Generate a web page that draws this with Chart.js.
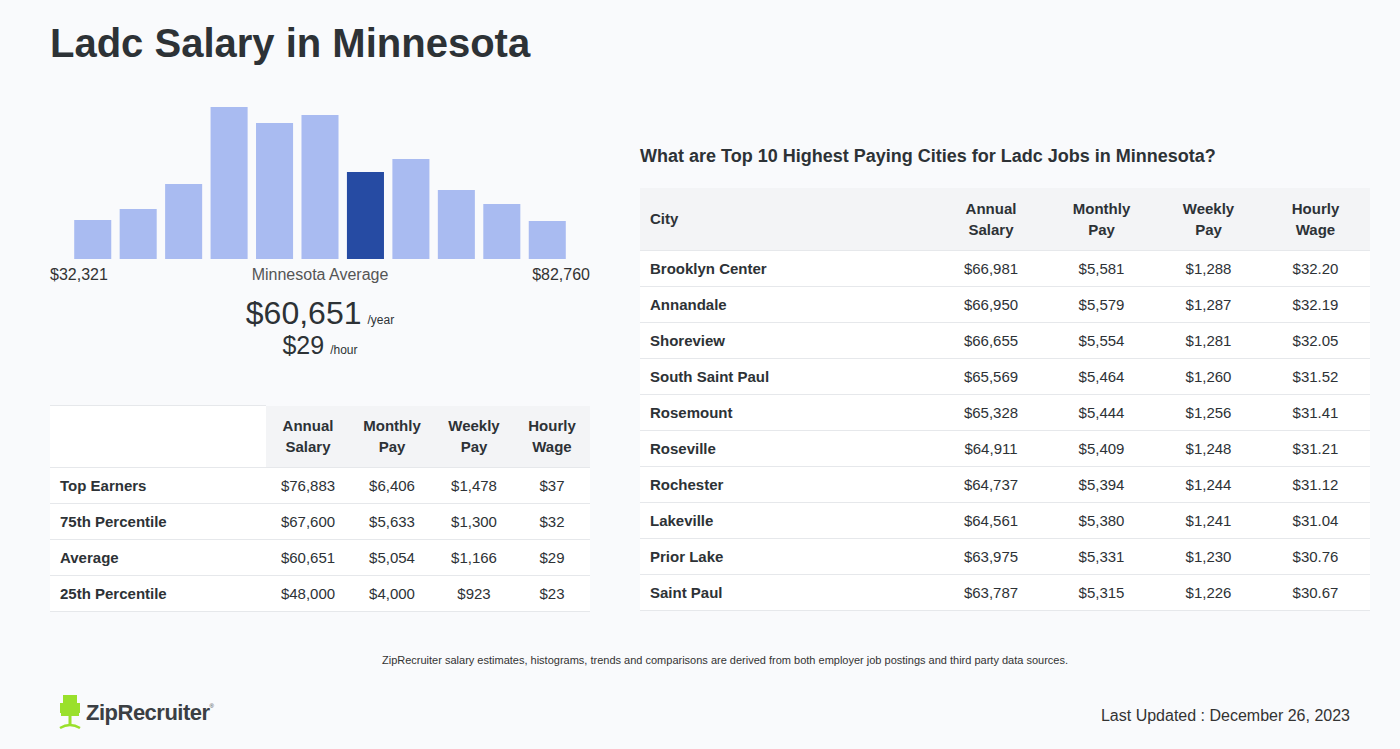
<!DOCTYPE html>
<html>
<head>
<meta charset="utf-8">
<script src="https://cdn.jsdelivr.net/npm/chart.js@4/dist/chart.umd.min.js"></script>
<style>
  body{margin:0;background:#f9fafc;font-family:"Liberation Sans",Arial,sans-serif;color:#2d3236;width:1400px;height:749px;position:relative;overflow:hidden}
  h1{position:absolute;left:50px;top:21px;margin:0;font-size:40px;font-weight:bold;color:#2d3236}
  #histWrap{position:absolute;left:70px;top:107px;width:500px;height:152px}
  .lbl{position:absolute;top:266px;font-size:16px;color:#333}
  .big{position:absolute;left:0;width:640px;text-align:center;color:#2d3236}
  .big small{font-size:12px;margin-left:6px}
  table{border-collapse:collapse;position:absolute;font-size:15px;color:#2d3236;table-layout:fixed}
  td,th{padding:0 10px;border-bottom:1px solid #e6e8eb}
  td{height:35px}
  th{font-weight:bold;line-height:21px;text-align:center}
  td{text-align:center;background:#fff}
  td.n{text-align:left;font-weight:bold}
  #left{left:50px;top:405px;width:540px}
  #left thead tr{height:62px}
  #left th.g{background:#f3f4f6}
  #left th.e{background:#fff;border-top:1px solid #e6e8eb}
  #right{left:640px;top:188px;width:730px}
  #right thead tr{height:62px}
  #right th{background:#f3f4f6}
  #right th.c{text-align:left}
  h2{position:absolute;left:640px;top:146px;margin:0;font-size:18px;font-weight:bold;color:#2d3236}
  .foot{position:absolute;top:654px;left:0;width:1450px;text-align:center;font-size:11px;color:#333}
  .upd{position:absolute;right:50px;top:707px;font-size:16px;color:#333}
  .logo{position:absolute;left:58px;top:695px;display:flex;align-items:center}
  .logo span{font-size:22px;font-weight:bold;color:#3b3f44;margin-left:4px;letter-spacing:-0.5px}
</style>
</head>
<body>
<h1>Ladc Salary in Minnesota</h1>
<div id="histWrap"><canvas id="hist" width="500" height="152"></canvas></div>
<div class="lbl" style="left:50px">$32,321</div>
<div class="lbl" style="left:170px;width:300px;text-align:center;color:#555">Minnesota Average</div>
<div class="lbl" style="right:810px">$82,760</div>
<div class="big" style="top:295px;font-size:32px">$60,651<small>/year</small></div>
<div class="big" style="top:331px;font-size:25px">$29<small>/hour</small></div>

<table id="left">
  <colgroup><col style="width:216px"><col style="width:84px"><col style="width:84px"><col style="width:80px"><col style="width:76px"></colgroup>
  <thead><tr><th class="e"></th><th class="g">Annual<br>Salary</th><th class="g">Monthly<br>Pay</th><th class="g">Weekly<br>Pay</th><th class="g">Hourly<br>Wage</th></tr></thead>
  <tbody id="leftBody"></tbody>
</table>

<h2>What are Top 10 Highest Paying Cities for Ladc Jobs in Minnesota?</h2>
<table id="right">
  <colgroup><col style="width:295px"><col style="width:112px"><col style="width:109px"><col style="width:105px"><col style="width:109px"></colgroup>
  <thead><tr><th class="c">City</th><th>Annual<br>Salary</th><th>Monthly<br>Pay</th><th>Weekly<br>Pay</th><th>Hourly<br>Wage</th></tr></thead>
  <tbody id="rightBody"></tbody>
</table>

<div class="foot">ZipRecruiter salary estimates, histograms, trends and comparisons are derived from both employer job postings and third party data sources.</div>
<div class="logo">
  <svg width="24" height="36" viewBox="0 0 24 36">
    <rect x="5" y="0" width="14" height="20" fill="#9ae02c"/>
    <rect x="2" y="8" width="3" height="10" fill="#9ae02c"/>
    <rect x="19" y="8" width="3" height="10" fill="#9ae02c"/>
    <rect x="3" y="18" width="18" height="3" fill="#9ae02c"/>
    <rect x="10.5" y="21" width="3" height="9" fill="#9ae02c"/>
    <path d="M2 33 Q12 27 22 33" stroke="#9ae02c" stroke-width="2.5" fill="none"/>
  </svg>
  <span>ZipRecruiter</span><sup style="font-size:6px;color:#3b3f44;margin-top:-14px">®</sup>
</div>
<div class="upd">Last Updated : December 26, 2023</div>

<script>
// histogram (relative bar heights)
const binHeights = [39, 50, 75, 152, 136, 144, 87, 100, 69, 55, 38];
const highlightBin = 6;
const lightBlue = '#a9bbf1';
const darkBlue = '#264ba3';

// percentile table
const pctLabels = ['Top Earners', '75th Percentile', 'Average', '25th Percentile'];
const pctAnnual = ['$76,883', '$67,600', '$60,651', '$48,000'];
const pctMonthly = ['$6,406', '$5,633', '$5,054', '$4,000'];
const pctWeekly = ['$1,478', '$1,300', '$1,166', '$923'];
const pctHourly = ['$37', '$32', '$29', '$23'];

// top cities
const cities = ['Brooklyn Center','Annandale','Shoreview','South Saint Paul','Rosemount','Roseville','Rochester','Lakeville','Prior Lake','Saint Paul'];
const cityAnnual = ['$66,981','$66,950','$66,655','$65,569','$65,328','$64,911','$64,737','$64,561','$63,975','$63,787'];
const cityMonthly = ['$5,581','$5,579','$5,554','$5,464','$5,444','$5,409','$5,394','$5,380','$5,331','$5,315'];
const cityWeekly = ['$1,288','$1,287','$1,281','$1,260','$1,256','$1,248','$1,244','$1,241','$1,230','$1,226'];
const cityHourly = ['$32.20','$32.19','$32.05','$31.52','$31.41','$31.21','$31.12','$31.04','$30.76','$30.67'];

function fillRows(tbodyId, names, cols){
  const tbody = document.getElementById(tbodyId);
  names.forEach((name,i)=>{
    const tr = document.createElement('tr');
    tr.innerHTML = `<td class="n">${name}</td>` + cols.map(c=>`<td>${c[i]}</td>`).join('');
    tbody.appendChild(tr);
  });
}
fillRows('leftBody', pctLabels, [pctAnnual, pctMonthly, pctWeekly, pctHourly]);
fillRows('rightBody', cities, [cityAnnual, cityMonthly, cityWeekly, cityHourly]);

new Chart(document.getElementById('hist'), {
  type: 'bar',
  data: {
    labels: binHeights.map((_,i)=>'bin '+(i+1)),
    datasets: [{
      data: binHeights,
      backgroundColor: binHeights.map((_,i)=> i===highlightBin ? darkBlue : lightBlue),
      borderWidth: 0,
      barPercentage: 0.815,
      categoryPercentage: 1.0
    }]
  },
  options: {
    responsive: false,
    animation: false,
    layout: {padding: 0},
    plugins: {legend:{display:false}, tooltip:{enabled:false}},
    scales: {
      x: {display:false},
      y: {display:false, min:0, max:152}
    }
  }
});
</script>
</body>
</html>
